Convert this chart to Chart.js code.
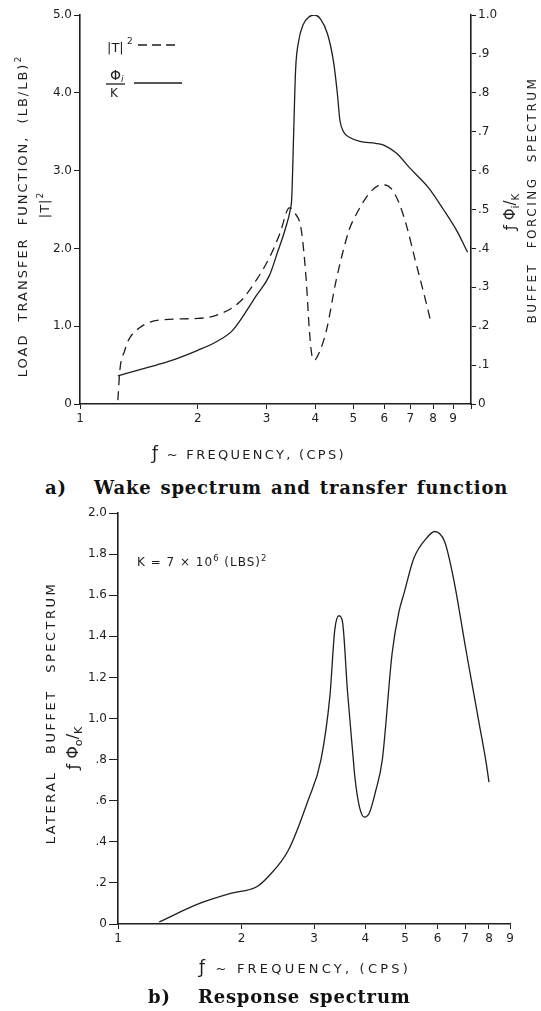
<!DOCTYPE html>
<html>
<head>
<meta charset="utf-8">
<script src="https://cdn.jsdelivr.net/npm/chart.js@4.4.1/dist/chart.umd.min.js"></script>
<style>
  body { margin: 0; background: #fff; }
  #page { position: relative; width: 541px; height: 1011px; overflow: hidden; background: #fff; }
  canvas { position: absolute; left: 0; }
  .lbl { position: absolute; white-space: nowrap; color: #1e1e1e; font-family: "DejaVu Sans", sans-serif; }
  .rot { transform: translate(-50%, -50%) rotate(-90deg); }
  .cap { font-family: "DejaVu Serif", serif; font-weight: bold; font-size: 18px; letter-spacing: 0.8px; word-spacing: 2px; color: #111; }
  sup, sub { font-size: 70%; line-height: 0; }
</style>
</head>
<body>
<div id="page">
  <canvas id="wake" width="541" height="475" style="top:0"></canvas>
  <canvas id="resp" width="541" height="480" style="top:500px"></canvas>

  <!-- panel a labels -->
  <div class="lbl rot" style="left:22px;top:216px;font-size:13px;letter-spacing:2px;word-spacing:6px">LOAD TRANSFER FUNCTION, (LB/LB)<sup>2</sup></div>
  <div class="lbl rot" style="left:44px;top:205px;font-size:13px;letter-spacing:1px">|T|<sup>2</sup></div>
  <div class="lbl rot" style="left:532px;top:200px;font-size:12px;letter-spacing:2.5px;word-spacing:8px">BUFFET FORCING SPECTRUM</div>
  <div class="lbl rot" style="left:510px;top:212px;font-size:15px">ƒ Φ<sub>i</sub>/<sub>K</sub></div>
  <div class="lbl" style="left:152px;top:443px;font-size:13px;letter-spacing:2.3px"><span style="font-size:17px">ƒ</span> ~ FREQUENCY, (CPS)</div>
  <div class="lbl cap" style="left:45px;top:477px">a)&nbsp;&nbsp;&nbsp;Wake spectrum and transfer function</div>

  <!-- panel b labels -->
  <div class="lbl rot" style="left:50px;top:713px;font-size:13px;letter-spacing:2.5px;word-spacing:10px">LATERAL BUFFET SPECTRUM</div>
  <div class="lbl rot" style="left:72px;top:748px;font-size:16px">ƒ Φ<sub>o</sub>/<sub>K</sub></div>
  <div class="lbl" style="left:137px;top:555px;font-size:12px;letter-spacing:1px">K = 7 × 10<sup>6</sup> (LBS)<sup>2</sup></div>
  <div class="lbl" style="left:199px;top:957px;font-size:13px;letter-spacing:3.2px"><span style="font-size:17px">ƒ</span> ~ FREQUENCY, (CPS)</div>
  <div class="lbl cap" style="left:148px;top:986px">b)&nbsp;&nbsp;&nbsp;Response spectrum</div>
</div>

<script>
// transfer function |T|^2, (lb/lb)^2
const freqT = [1.25, 1.265, 1.3, 1.33, 1.42, 1.6, 2.0, 2.23, 2.56, 2.83, 3.05, 3.25, 3.43, 3.55, 3.68, 3.79, 3.86, 3.92, 3.98, 4.09, 4.27, 4.52, 4.88, 5.03, 5.5, 5.93, 6.25, 6.55, 6.86, 7.2, 7.55, 7.9];
const tSquared = [0.05, 0.44, 0.68, 0.82, 0.98, 1.08, 1.10, 1.14, 1.31, 1.6, 1.88, 2.2, 2.52, 2.45, 2.24, 1.59, 0.95, 0.62, 0.565, 0.66, 0.95, 1.59, 2.24, 2.39, 2.71, 2.82, 2.77, 2.58, 2.27, 1.85, 1.45, 1.05];

// wake forcing spectrum f*Phi_i/K
const freqPhi = [1.25, 1.5, 1.67, 2.0, 2.25, 2.46, 2.83, 3.05, 3.2, 3.35, 3.45, 3.48, 3.52, 3.56, 3.62, 3.72, 3.85, 3.98, 4.12, 4.3, 4.45, 4.55, 4.62, 4.72, 4.9, 5.2, 5.7, 6.0, 6.44, 7.0, 7.8, 8.5, 9.2, 9.8];
const phiWake = [0.072, 0.095, 0.108, 0.138, 0.162, 0.19, 0.28, 0.33, 0.39, 0.45, 0.50, 0.53, 0.70, 0.86, 0.93, 0.975, 0.995, 1.0, 0.99, 0.95, 0.88, 0.80, 0.73, 0.70, 0.685, 0.675, 0.67, 0.665, 0.645, 0.605, 0.555, 0.50, 0.445, 0.39];

// lateral response spectrum f*Phi_o/K
const freqResp = [1.26, 1.58, 1.89, 2.17, 2.32, 2.6, 2.9, 3.12, 3.28, 3.37, 3.45, 3.52, 3.62, 3.74, 3.77, 3.87, 3.98, 4.09, 4.23, 4.4, 4.65, 4.83, 4.97, 5.25, 5.65, 5.9, 6.24, 6.56, 7.05, 7.58, 7.88, 8.0];
const phiResp = [0.01, 0.10, 0.15, 0.18, 0.23, 0.36, 0.60, 0.80, 1.11, 1.43, 1.50, 1.47, 1.13, 0.80, 0.72, 0.57, 0.52, 0.54, 0.64, 0.80, 1.32, 1.52, 1.61, 1.78, 1.88, 1.91, 1.86, 1.68, 1.32, 0.97, 0.78, 0.69];

const freqTicks = [1, 2, 3, 4, 5, 6, 7, 8, 9];
const tTicks = [0, 1, 2, 3, 4, 5];
const phiTicks = [0, 0.1, 0.2, 0.3, 0.4, 0.5, 0.6, 0.7, 0.8, 0.9, 1.0];
const respTicks = [0, 0.2, 0.4, 0.6, 0.8, 1.0, 1.2, 1.4, 1.6, 1.8, 2.0];

const ink = '#1e1e1e';
const tickFont = { family: 'DejaVu Sans', size: 12 };

const pts = (xs, ys) => xs.map((x, i) => ({ x: x, y: ys[i] }));
const fmtFrac = v => v === 0 ? '0' : (v < 1 ? v.toFixed(1).replace(/^0/, '') : v.toFixed(1));

const setTicks = list => scale => { scale.ticks = list.map(v => ({ value: v })); };
const fixSize = (prop, px) => scale => { scale[prop] = px; };

const axisStyle = (len) => ({
  grid: { drawOnChartArea: false, tickLength: len, color: ink, tickWidth: 1 },
  border: { color: ink, width: 1.6 }
});

const freqAxis = (max, height, list) => Object.assign({
  type: 'logarithmic', min: 1, max: max,
  afterBuildTicks: setTicks(list),
  afterFit: fixSize('height', height),
  ticks: { color: ink, font: tickFont, padding: 3, maxRotation: 0, autoSkip: false,
           callback: v => freqTicks.includes(v) ? String(v) : '' }
}, axisStyle(5));

// little key in the upper left of panel a
const wakeKey = {
  id: 'wakeKey',
  afterDraw(chart) {
    const c = chart.ctx;
    c.save();
    c.fillStyle = ink; c.strokeStyle = ink; c.lineWidth = 1.3;
    c.font = '13px "DejaVu Sans"';
    c.textBaseline = 'alphabetic';
    c.fillText('|T|', 107, 52);
    c.font = '9px "DejaVu Sans"';
    c.fillText('2', 127, 44);
    c.setLineDash([9, 5]);
    c.beginPath(); c.moveTo(138, 45); c.lineTo(180, 45); c.stroke();
    c.setLineDash([]);
    c.beginPath(); c.moveTo(134, 83); c.lineTo(182, 83); c.stroke();
    c.font = '14px "DejaVu Sans"';
    c.fillText('Φ', 110, 80);
    c.font = 'italic 9px "DejaVu Sans"';
    c.fillText('i', 121, 82);
    c.beginPath(); c.moveTo(106, 84); c.lineTo(125, 84); c.stroke();
    c.font = '12px "DejaVu Sans"';
    c.fillText('K', 110, 97);
    c.restore();
  }
};

const lineStyle = { borderColor: ink, borderWidth: 1.3, pointRadius: 0, cubicInterpolationMode: 'monotone', fill: false };

new Chart(document.getElementById('wake'), {
  type: 'line',
  data: {
    datasets: [
      Object.assign({ label: '|T|²', data: pts(freqT, tSquared), yAxisID: 'yT', borderDash: [9, 6] }, lineStyle),
      Object.assign({ label: 'fΦi/K', data: pts(freqPhi, phiWake), yAxisID: 'yPhi' }, lineStyle)
    ]
  },
  options: {
    responsive: false, animation: false,
    layout: { padding: { top: 15, left: 0, right: 0, bottom: 0 } },
    plugins: { legend: { display: false }, tooltip: { enabled: false } },
    scales: {
      x: freqAxis(10, 71, freqTicks.concat([10])),
      yT: Object.assign({
        position: 'left', min: 0, max: 5,
        afterBuildTicks: setTicks(tTicks),
        afterFit: fixSize('width', 80),
        ticks: { color: ink, font: tickFont, padding: 2, callback: v => v === 0 ? '0' : v.toFixed(1) }
      }, axisStyle(6)),
      yPhi: Object.assign({
        position: 'right', min: 0, max: 1,
        afterBuildTicks: setTicks(phiTicks),
        afterFit: fixSize('width', 70),
        ticks: { color: ink, font: tickFont, padding: 2, callback: fmtFrac }
      }, axisStyle(5))
    }
  },
  plugins: [wakeKey]
});

new Chart(document.getElementById('resp'), {
  type: 'line',
  data: {
    datasets: [
      Object.assign({ label: 'fΦo/K', data: pts(freqResp, phiResp) }, lineStyle)
    ]
  },
  options: {
    responsive: false, animation: false,
    layout: { padding: { top: 13, left: 0, right: 31, bottom: 0 } },
    plugins: { legend: { display: false }, tooltip: { enabled: false } },
    scales: {
      x: freqAxis(9, 56, freqTicks),
      y: Object.assign({
        min: 0, max: 2,
        afterBuildTicks: setTicks(respTicks),
        afterFit: fixSize('width', 118),
        ticks: { color: ink, font: tickFont, padding: 2, callback: fmtFrac }
      }, axisStyle(9))
    }
  }
});
</script>
</body>
</html>
